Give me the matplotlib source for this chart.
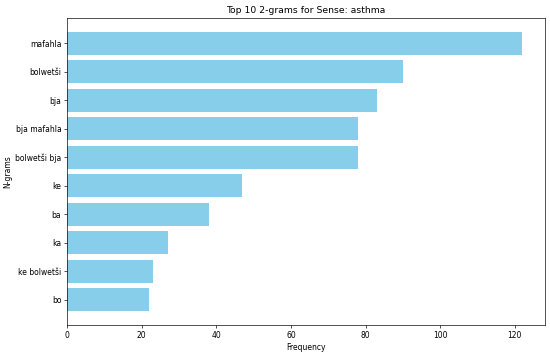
import matplotlib
matplotlib.use("Agg")
import matplotlib.pyplot as plt

plt.rcParams["font.size"] = 9.2

ngrams = ["mafahla", "bolwetši", "bja", "bja mafahla", "bolwetši bja",
          "ke", "ba", "ka", "ke bolwetši", "bo"]
counts = [122, 90, 83, 78, 78, 47, 38, 27, 23, 22]

fig, ax = plt.subplots(figsize=(550 / 60, 6), dpi=60)
ax.barh(ngrams, counts, color="skyblue")
ax.invert_yaxis()
ax.set_title("Top 10 2-grams for Sense: asthma")
ax.set_xlabel("Frequency")
ax.set_ylabel("N-grams", labelpad=3)
fig.subplots_adjust(left=0.122, right=0.991, top=0.95, bottom=0.097)
fig.savefig("out.png", dpi=60)
